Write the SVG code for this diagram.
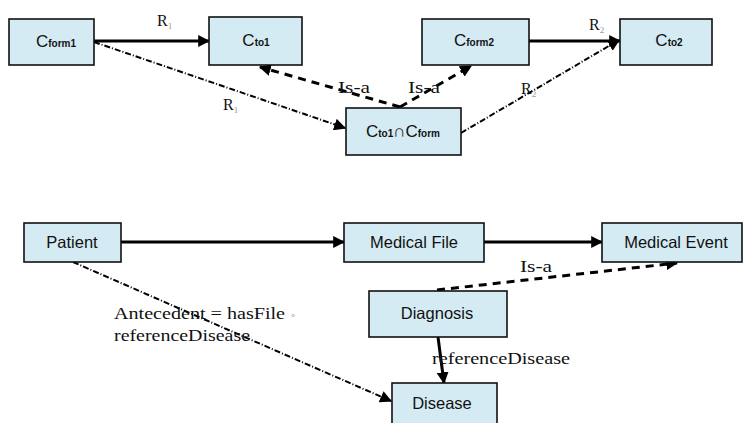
<svg xmlns="http://www.w3.org/2000/svg" width="751" height="423" viewBox="0 0 751 423">
<defs>
<marker id="ah" viewBox="0 0 10 10" refX="9" refY="5" markerWidth="4" markerHeight="4" orient="auto" markerUnits="strokeWidth">
<path d="M0,0 L10,5 L0,10 z" fill="#000"/>
</marker>
<marker id="ahs" viewBox="0 0 10 10" refX="9" refY="5" markerWidth="6" markerHeight="6" orient="auto" markerUnits="strokeWidth">
<path d="M0,0 L10,5 L0,10 z" fill="#000"/>
</marker>
<style>
.box{fill:#d4ebf3;stroke:#111;stroke-width:1.6}
.nl{font-family:"Liberation Sans",Arial,sans-serif;font-size:16.5px;fill:#111;text-anchor:middle}
.cl{font-family:"Liberation Sans",Arial,sans-serif;font-size:17px;fill:#111;text-anchor:middle}
.sub{font-size:10px;font-weight:bold}
.rs{font-size:9px;fill:#999}
.el{font-family:"Liberation Serif","Times New Roman",serif;font-size:16px;fill:#111}
.solid{stroke:#000;stroke-width:3;fill:none}
.dash{stroke:#000;stroke-width:3;fill:none;stroke-dasharray:8 6}
.dot{stroke:#000;stroke-width:2;fill:none;stroke-dasharray:6 2 1 2}
</style>
</defs>
<rect width="751" height="423" fill="#fff"/>
<g id="connectors">
<line class="solid" x1="94" y1="41" x2="209" y2="41" marker-end="url(#ah)"/>
<line class="dot" x1="94" y1="42" x2="345" y2="128" marker-end="url(#ahs)"/>
<line class="dash" x1="400" y1="107" x2="260" y2="67" marker-end="url(#ah)"/>
<line class="dash" x1="400" y1="107" x2="471" y2="66" marker-end="url(#ah)"/>
<line class="solid" x1="529" y1="41" x2="620" y2="41" marker-end="url(#ah)"/>
<line class="dot" x1="461" y1="133" x2="619" y2="40" marker-end="url(#ahs)"/>
<line class="solid" x1="121" y1="242" x2="344" y2="242" marker-end="url(#ah)"/>
<line class="solid" x1="484" y1="242" x2="602" y2="242" marker-end="url(#ah)"/>
<line class="dash" x1="437" y1="290" x2="677" y2="263" marker-end="url(#ah)"/>
<line class="solid" x1="438" y1="337" x2="444" y2="383" marker-end="url(#ah)"/>
<line class="dot" x1="73" y1="262" x2="391" y2="401" marker-end="url(#ahs)"/>
<text class="el" x="157" y="26">R<tspan class="rs" dy="3">1</tspan></text>
<text class="el" x="223" y="110">R<tspan class="rs" dy="3">1</tspan></text>
<text class="el" x="338" y="93" textLength="32" lengthAdjust="spacingAndGlyphs">Is-a</text>
<text class="el" x="408" y="93" textLength="32" lengthAdjust="spacingAndGlyphs">Is-a</text>
<text class="el" x="589" y="30">R<tspan class="rs" dy="3">2</tspan></text>
<text class="el" x="521" y="94">R<tspan class="rs" dy="3">2</tspan></text>
<text class="el" x="520" y="272" textLength="32" lengthAdjust="spacingAndGlyphs">Is-a</text>
<text class="el" x="432" y="364" textLength="138" lengthAdjust="spacingAndGlyphs">referenceDisease</text>
<text class="el" x="114" y="319" textLength="171" lengthAdjust="spacingAndGlyphs">Antecedent = hasFile</text>
<text x="290" y="318" font-family="Liberation Serif,serif" font-size="10" fill="#bbb">∘</text>
<text class="el" x="114" y="341" textLength="136" lengthAdjust="spacingAndGlyphs">referenceDisease</text>
</g>
<g id="n-cform1"><rect class="box" x="9" y="19" width="85" height="46"/><text class="cl" x="56" y="47">C<tspan class="sub">form1</tspan></text></g>
<g id="n-cto1"><rect class="box" x="209" y="17" width="93" height="48"/><text class="cl" x="256" y="46">C<tspan class="sub">to1</tspan></text></g>
<g id="n-cform2"><rect class="box" x="422" y="19" width="107" height="46"/><text class="cl" x="474" y="46">C<tspan class="sub">form2</tspan></text></g>
<g id="n-cto2"><rect class="box" x="620" y="19" width="92" height="46"/><text class="cl" x="669" y="46">C<tspan class="sub">to2</tspan></text></g>
<g id="n-inter"><rect class="box" x="346" y="108" width="115" height="47"/><text class="cl" x="403" y="137">C<tspan class="sub">to1</tspan>∩C<tspan class="sub">form</tspan></text></g>
<g id="n-patient"><rect class="box" x="24" y="223" width="97" height="39"/><text class="nl" x="72" y="248">Patient</text></g>
<g id="n-medfile"><rect class="box" x="344" y="223" width="140" height="39"/><text class="nl" x="414" y="248">Medical  File</text></g>
<g id="n-medevent"><rect class="box" x="602" y="223" width="140" height="39"/><text class="nl" x="676" y="248">Medical Event</text></g>
<g id="n-diagnosis"><rect class="box" x="369" y="291" width="138" height="46"/><text class="nl" x="437" y="319">Diagnosis</text></g>
<g id="n-disease"><rect class="box" x="392" y="383" width="105" height="45"/><text class="nl" x="442" y="409">Disease</text></g>
</svg>
